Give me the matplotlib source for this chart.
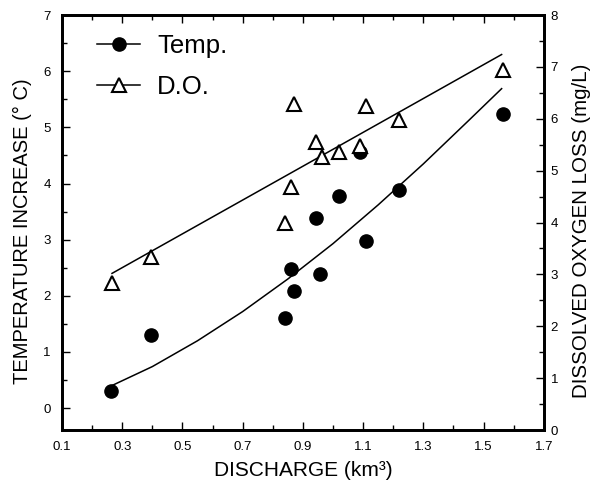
import matplotlib
matplotlib.use("Agg")
import matplotlib.pyplot as plt
from matplotlib.lines import Line2D
from matplotlib.ticker import MultipleLocator

plt.rcParams["font.family"] = ["Liberation Sans", "DejaVu Sans"]

# ---- data ----
temp_x = [0.263, 0.395, 0.840, 0.862, 0.870, 0.958, 0.942, 1.021, 1.091, 1.110, 1.219, 1.563]
temp_y = [0.30, 1.30, 1.60, 2.48, 2.08, 2.38, 3.38, 3.78, 4.57, 2.98, 3.88, 5.24]

do_x = [0.267, 0.395, 0.840, 0.862, 0.870, 0.942, 0.964, 1.021, 1.091, 1.110, 1.219, 1.563]
do_y = [2.83, 3.34, 3.99, 4.68, 6.28, 5.56, 5.27, 5.36, 5.47, 6.24, 5.97, 6.94]

# fitted curves as traced on the reference
temp_fit_x = [0.265, 0.40, 0.55, 0.70, 0.85, 1.00, 1.15, 1.30, 1.45, 1.56]
temp_fit_y = [0.40, 0.74, 1.20, 1.72, 2.30, 2.93, 3.62, 4.35, 5.12, 5.69]
do_fit_x = [0.266, 0.892, 1.560]
do_fit_y = [3.02, 5.06, 7.24]

fig = plt.figure(figsize=(5.93, 4.87), dpi=100)
ax = fig.add_axes([0.1046, 0.117, 0.8124, 0.852])
ax2 = ax.twinx()

ax.plot(temp_x, temp_y, "o", color="black", markersize=9.5, zorder=3)
ax.plot(temp_fit_x, temp_fit_y, "-", color="black", lw=1.1)
ax2.plot(do_x, do_y, "^", mfc="white", mec="black", mew=1.5, markersize=10.5, zorder=3)
ax2.plot(do_fit_x, do_fit_y, "-", color="black", lw=1.1)

ax.set_xlim(0.1, 1.7)
ax.set_ylim(-0.39, 7)
ax2.set_ylim(0, 8)

ax.xaxis.set_minor_locator(MultipleLocator(0.1))
ax.set_xticks([0.1, 0.3, 0.5, 0.7, 0.9, 1.1, 1.3, 1.5, 1.7])
ax.set_xticklabels(["0.1", "0.3", "0.5", "0.7", "0.9", "1.1", "1.3", "1.5", "1.7"])
ax.yaxis.set_major_locator(MultipleLocator(1))
ax.yaxis.set_minor_locator(MultipleLocator(0.5))
ax2.yaxis.set_major_locator(MultipleLocator(1))
ax2.yaxis.set_minor_locator(MultipleLocator(0.5))

ax.tick_params(axis="x", which="both", direction="in", top=True, labelsize=9.5, pad=8)
ax.tick_params(axis="y", which="both", direction="in", labelsize=9.5, pad=8)
ax2.tick_params(axis="y", which="both", direction="in", labelsize=9.5, pad=5)
for a in (ax, ax2):
    a.tick_params(which="major", length=6, width=1)
    a.tick_params(which="minor", length=3.5, width=1)
    for s in a.spines.values():
        s.set_linewidth(2)

ax.set_xlabel("DISCHARGE (km³)", fontsize=15)
ax.xaxis.set_label_coords(0.5, -0.075)
ax.set_ylabel("TEMPERATURE INCREASE (° C)", fontsize=14.5)
ax.yaxis.set_label_coords(-0.062, 0.48)
ax2.set_ylabel("DISSOLVED OXYGEN LOSS (mg/L)", fontsize=14.8)
ax2.yaxis.set_label_coords(1.058, 0.48)

handles = [
    Line2D([], [], color="black", lw=1.1, marker="o", markersize=9.5),
    Line2D([], [], color="black", lw=1.1, marker="^", mfc="white", mec="black", mew=1.5, markersize=10.5),
]
ax.legend(handles, ["Temp.", "D.O."], loc="upper left", bbox_to_anchor=(0.073, 0.955),
          frameon=False, fontsize=18.5, borderpad=0, borderaxespad=0, handlelength=1.67,
          handletextpad=0.66, labelspacing=0.68)

plt.savefig("out.png", dpi=100)
plt.close()
